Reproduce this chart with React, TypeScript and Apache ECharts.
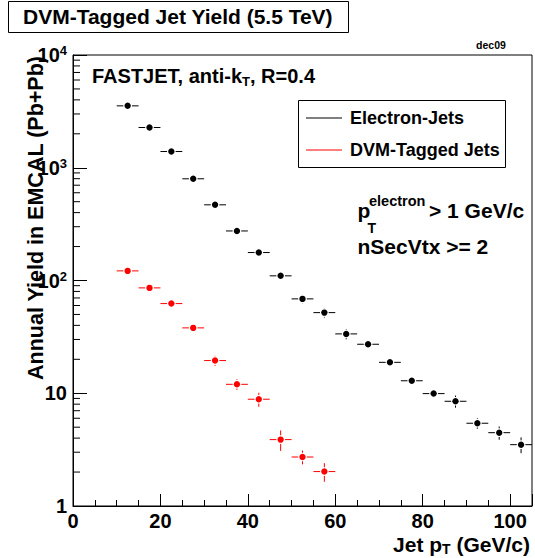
import React, { useEffect, useRef } from "react";
import * as echarts from "echarts";

const binCenters = [12.5, 17.5, 22.5, 27.5, 32.5, 37.5, 42.5, 47.5, 52.5, 57.5, 62.5, 67.5, 72.5, 77.5, 82.5, 87.5, 92.5, 97.5, 102.5];
const binHalfWidth = 2.5;
const electronJetYield = [3540, 2275, 1393, 798, 469, 275, 177, 110, 68.7, 51.9, 33.6, 27.2, 18.8, 12.9, 9.93, 8.49, 5.42, 4.47, 3.5];
const electronJetError = [50, 40, 30, 22, 17, 13, 10, 8, 6, 5, 3.5, 2.2, 1.5, 1.0, 0.85, 1.04, 0.58, 0.6, 0.56];
const dvmTaggedYield = [121.7, 86, 62.4, 38, 19.5, 12.0, 8.85, 3.88, 2.72, 2.02];
const dvmTaggedError = [5, 4, 3.5, 2.5, 2.0, 1.3, 1.25, 0.8, 0.38, 0.38];
const yMinorTickValues = [2, 3, 4, 5, 6, 7, 8, 9, 20, 30, 40, 50, 60, 70, 80, 90, 200, 300, 400, 500, 600, 700, 800, 900, 2000, 3000, 4000, 5000, 6000, 7000, 8000, 9000];
const xLabelStep = 20;

const FONT = "'Liberation Sans', Arial, Helvetica, sans-serif";

function errorSeries(name: string, values: number[], errors: number[], color: string) {
  const data = values.map((v, i) => [binCenters[i], v, errors[i]]);
  return {
    type: "custom",
    name,
    data,
    clip: false,
    silent: true,
    encode: { x: 0, y: 1 },
    renderItem: (params: any, api: any) => {
      const x = api.value(0);
      const y = api.value(1);
      const e = api.value(2);
      const c = api.coord([x, y]);
      const l = api.coord([x - binHalfWidth, y]);
      const r = api.coord([x + binHalfWidth, y]);
      const t = api.coord([x, y + e]);
      const b = api.coord([x, Math.max(y - e, 1e-6)]);
      const gap = 4.3;
      const ls = { stroke: color, lineWidth: 1 };
      const children: any[] = [
        { type: "line", shape: { x1: l[0], y1: c[1], x2: c[0] - gap, y2: c[1] }, style: ls },
        { type: "line", shape: { x1: c[0] + gap, y1: c[1], x2: r[0], y2: c[1] }, style: ls },
      ];
      if (t[1] < c[1] - gap) children.push({ type: "line", shape: { x1: c[0], y1: t[1], x2: c[0], y2: c[1] - gap }, style: ls });
      if (b[1] > c[1] + gap) children.push({ type: "line", shape: { x1: c[0], y1: c[1] + gap, x2: c[0], y2: b[1] }, style: ls });
      children.push({ type: "circle", shape: { cx: c[0], cy: c[1], r: 3.2 }, style: { fill: color } });
      return { type: "group", children };
    },
  };
}

export default function App() {
  const ref = useRef<HTMLDivElement>(null);
  useEffect(() => {
    if (!ref.current) return;
    const chart = echarts.init(ref.current, undefined, { renderer: "svg" });
    const al = (align: string) => ({ align, verticalAlign: "middle", textAlign: align, textVerticalAlign: "middle" });
    const txt = (extra: any) => ({ fill: "#000", fontFamily: FONT, fontWeight: "bold", ...extra });
    const subRich = (mainSize: number, subSize: number) => ({
      m: { fontFamily: FONT, fontWeight: "bold", fontSize: mainSize, lineHeight: 22, verticalAlign: "top", color: "#000" },
      s: { fontFamily: FONT, fontWeight: "bold", fontSize: subSize, lineHeight: 14, padding: [16, 0, 0, 0], verticalAlign: "bottom", color: "#000" },
    });
    const option: any = {
      animation: false,
      backgroundColor: "#fff",
      grid: { left: 73, right: 0, top: 55, bottom: 52, show: true, borderColor: "#000", borderWidth: 1 },
      xAxis: [
        {
          type: "value", min: 0, max: 105, interval: 5, position: "bottom",
          axisLine: { show: true, lineStyle: { color: "#000", width: 1 } },
          axisTick: { show: true, inside: true, length: 6, lineStyle: { color: "#000" } },
          axisLabel: { show: false },
          splitLine: { show: false },
        },
        {
          type: "value", min: 0, max: 105, interval: xLabelStep, position: "bottom",
          axisLine: { show: false },
          axisTick: { show: true, inside: true, length: 12, lineStyle: { color: "#000" } },
          axisLabel: {
            show: true, margin: 7, color: "#000", fontFamily: FONT, fontWeight: "bold", fontSize: 20, lineHeight: 16,
            formatter: (v: number) => (v % xLabelStep === 0 ? String(v) : ""),
          },
          splitLine: { show: false },
        },
      ],
      yAxis: {
        type: "log", logBase: 10, min: 1, max: 10000,
        axisLine: { show: true, lineStyle: { color: "#000", width: 1 } },
        axisTick: { show: true, inside: true, length: 14, lineStyle: { color: "#000" } },
        splitLine: { show: false },
        axisLabel: {
          show: true, margin: 6, color: "#000",
          formatter: (v: number) => {
            const e = Math.round(Math.log10(v));
            if (e === 0) return "{b|1}";
            if (e === 1) return "{b|10}";
            return "{b|10}{s|" + e + "}";
          },
          rich: {
            b: { fontFamily: FONT, fontWeight: "bold", fontSize: 20, lineHeight: 22, color: "#000" },
            s: { fontFamily: FONT, fontWeight: "bold", fontSize: 13, lineHeight: 13, verticalAlign: "top", color: "#000" },
          },
        },
      },
      series: [
        {
          type: "custom",
          name: "minorTicks",
          data: yMinorTickValues.map((v) => [0, v]),
          clip: false,
          silent: true,
          encode: { x: 0, y: 1 },
          renderItem: (params: any, api: any) => {
            const c = api.coord([api.value(0), api.value(1)]);
            return { type: "line", shape: { x1: c[0], y1: c[1], x2: c[0] + 7, y2: c[1] }, style: { stroke: "#000", lineWidth: 1 } };
          },
        },
        errorSeries("Electron-Jets", electronJetYield, electronJetError, "#000000"),
        errorSeries("DVM-Tagged Jets", dvmTaggedYield, dvmTaggedError, "#ff0000"),
      ],
      graphic: [
        { type: "rect", shape: { x: 8.5, y: 1.5, width: 340, height: 31 }, style: { fill: "#fff", stroke: "#000", lineWidth: 1 } },
        { type: "text", x: 23, y: 16, style: txt({ text: "DVM-Tagged Jet Yield (5.5 TeV)", fontSize: 21, ...al("left") }) },
        { type: "text", x: 491, y: 45, style: txt({ text: "dec09", fontSize: 10.5, ...al("center") }) },
        {
          type: "text", x: 92, y: 77,
          style: { text: "{m|FASTJET, anti-k}{s|T}{m|, R=0.4}", ...al("left"), rich: subRich(20, 13) },
        },
        { type: "rect", shape: { x: 298.5, y: 100.5, width: 207, height: 67 }, style: { fill: "#fff", stroke: "#000", lineWidth: 1 } },
        { type: "line", shape: { x1: 306, y1: 118, x2: 342, y2: 118 }, style: { stroke: "#000", lineWidth: 1 } },
        { type: "line", shape: { x1: 306, y1: 150, x2: 342, y2: 150 }, style: { stroke: "#ff0000", lineWidth: 1.2 } },
        { type: "text", x: 350, y: 118, style: txt({ text: "Electron-Jets", fontSize: 18, ...al("left") }) },
        { type: "text", x: 350, y: 149.5, style: txt({ text: "DVM-Tagged Jets", fontSize: 18, ...al("left") }) },
        { type: "text", x: 357.5, y: 210, style: txt({ text: "p", fontSize: 21, ...al("left") }) },
        { type: "text", x: 369, y: 201, style: txt({ text: "electron", fontSize: 14.5, ...al("left") }) },
        { type: "text", x: 367.5, y: 228, style: txt({ text: "T", fontSize: 14, ...al("left") }) },
        { type: "text", x: 429, y: 210, style: txt({ text: "> 1 GeV/c", fontSize: 21, ...al("left") }) },
        { type: "text", x: 357.5, y: 246, style: txt({ text: "nSecVtx >= 2", fontSize: 21, ...al("left") }) },
        {
          type: "text", x: 36, y: 218, rotation: Math.PI / 2,
          style: txt({ text: "Annual Yield in EMCAL (Pb+Pb)", fontSize: 21.5, ...al("center") }),
        },
        {
          type: "text", x: 530, y: 545,
          style: { text: "{m|Jet p}{s|T}{m| (GeV/c)}", ...al("right"), rich: subRich(21, 14) },
        },
      ],
    };
    chart.setOption(option);
    return () => chart.dispose();
  }, []);
  return <div ref={ref} style={{ position: "absolute", left: 0, top: 0, width: 535, height: 558 }} />;
}
